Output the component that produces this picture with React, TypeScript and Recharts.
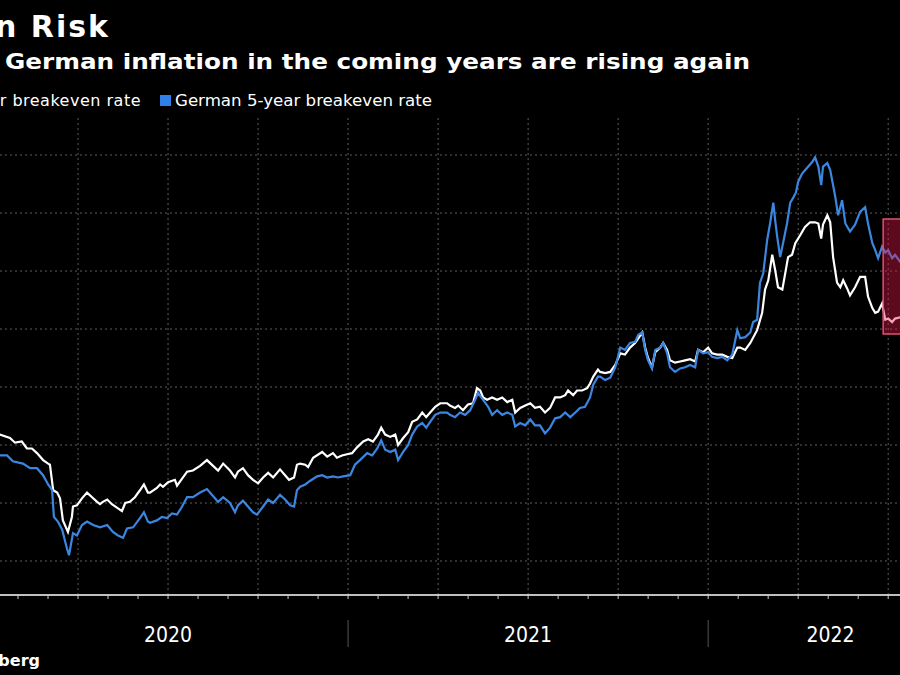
import { LineChart, Line, XAxis, YAxis, ReferenceLine, ReferenceArea } from 'recharts'

// [decimal year, %]
const tenYear: [number, number][] = [
  [2019.95, 1.1], [2020.033, 1.09], [2020.061, 1.06], [2020.075, 1.02], [2020.094, 1.03], [2020.108, 0.97],
  [2020.122, 0.97], [2020.136, 0.93], [2020.153, 0.87], [2020.167, 0.84], [2020.172, 0.83], [2020.181, 0.61],
  [2020.192, 0.59], [2020.2, 0.54], [2020.208, 0.35], [2020.222, 0.25], [2020.233, 0.38], [2020.236, 0.47],
  [2020.247, 0.48], [2020.261, 0.54], [2020.275, 0.59], [2020.289, 0.55], [2020.303, 0.51], [2020.311, 0.49],
  [2020.319, 0.51], [2020.331, 0.53], [2020.344, 0.49], [2020.358, 0.46], [2020.372, 0.43], [2020.381, 0.5],
  [2020.394, 0.51], [2020.408, 0.55], [2020.422, 0.61], [2020.433, 0.66], [2020.444, 0.59], [2020.45, 0.59],
  [2020.469, 0.63], [2020.478, 0.66], [2020.486, 0.64], [2020.5, 0.68], [2020.519, 0.7], [2020.525, 0.65],
  [2020.539, 0.71], [2020.553, 0.77], [2020.569, 0.78], [2020.589, 0.82], [2020.608, 0.87], [2020.625, 0.82],
  [2020.639, 0.78], [2020.653, 0.84], [2020.672, 0.78], [2020.686, 0.72], [2020.694, 0.77], [2020.708, 0.8],
  [2020.722, 0.74], [2020.736, 0.7], [2020.75, 0.67], [2020.764, 0.72], [2020.778, 0.76], [2020.792, 0.72],
  [2020.811, 0.79], [2020.825, 0.74], [2020.836, 0.7], [2020.85, 0.72], [2020.858, 0.83], [2020.867, 0.84],
  [2020.881, 0.83], [2020.889, 0.81], [2020.903, 0.89], [2020.928, 0.94], [2020.942, 0.9], [2020.958, 0.93],
  [2020.969, 0.89], [2020.983, 0.91], [2020.997, 0.92], [2021.011, 0.93], [2021.025, 0.98], [2021.042, 1.03],
  [2021.056, 1.05], [2021.069, 1.03], [2021.083, 1.09], [2021.092, 1.15], [2021.103, 1.09], [2021.117, 1.07],
  [2021.131, 1.09], [2021.139, 1.0], [2021.153, 1.06], [2021.167, 1.11], [2021.178, 1.2], [2021.192, 1.22],
  [2021.206, 1.28], [2021.217, 1.24], [2021.228, 1.28], [2021.242, 1.33], [2021.256, 1.36], [2021.275, 1.36],
  [2021.283, 1.34], [2021.297, 1.32], [2021.306, 1.34], [2021.319, 1.3], [2021.333, 1.35], [2021.347, 1.36],
  [2021.358, 1.49], [2021.367, 1.47], [2021.375, 1.41], [2021.386, 1.39], [2021.4, 1.41], [2021.414, 1.39],
  [2021.428, 1.41], [2021.442, 1.37], [2021.456, 1.39], [2021.464, 1.28], [2021.478, 1.32], [2021.492, 1.34],
  [2021.506, 1.36], [2021.519, 1.32], [2021.533, 1.33], [2021.547, 1.28], [2021.561, 1.32], [2021.575, 1.41],
  [2021.589, 1.41], [2021.603, 1.43], [2021.611, 1.47], [2021.625, 1.43], [2021.636, 1.47], [2021.65, 1.47],
  [2021.664, 1.49], [2021.672, 1.53], [2021.681, 1.59], [2021.694, 1.65], [2021.7, 1.63], [2021.714, 1.62],
  [2021.728, 1.63], [2021.742, 1.69], [2021.756, 1.79], [2021.769, 1.78], [2021.783, 1.84], [2021.797, 1.88],
  [2021.806, 1.92], [2021.817, 1.97], [2021.825, 1.84], [2021.833, 1.75], [2021.844, 1.67], [2021.853, 1.8],
  [2021.867, 1.84], [2021.875, 1.88], [2021.886, 1.82], [2021.894, 1.73], [2021.908, 1.71], [2021.922, 1.72],
  [2021.936, 1.73], [2021.95, 1.74], [2021.964, 1.72], [2021.972, 1.82], [2021.986, 1.8], [2022.0, 1.84],
  [2022.011, 1.79], [2022.025, 1.78], [2022.039, 1.78], [2022.053, 1.76], [2022.067, 1.75], [2022.081, 1.84],
  [2022.089, 1.84], [2022.103, 1.82], [2022.117, 1.88], [2022.136, 1.99], [2022.15, 2.14], [2022.158, 2.34],
  [2022.167, 2.42], [2022.178, 2.64], [2022.186, 2.51], [2022.194, 2.36], [2022.206, 2.34], [2022.214, 2.48],
  [2022.222, 2.62], [2022.233, 2.64], [2022.242, 2.74], [2022.256, 2.81], [2022.269, 2.88], [2022.283, 2.92],
  [2022.297, 2.92], [2022.306, 2.91], [2022.314, 2.78], [2022.319, 2.9], [2022.331, 2.98], [2022.339, 2.92],
  [2022.347, 2.62], [2022.358, 2.4], [2022.367, 2.36], [2022.375, 2.42], [2022.386, 2.35], [2022.394, 2.29],
  [2022.408, 2.36], [2022.422, 2.45], [2022.436, 2.45], [2022.444, 2.28], [2022.456, 2.18], [2022.464, 2.14],
  [2022.472, 2.15], [2022.483, 2.22], [2022.492, 2.08], [2022.5, 2.09], [2022.511, 2.06], [2022.519, 2.09],
  [2022.533, 2.1], [2022.55, 2.08],
]

const fiveYear: [number, number][] = [
  [2019.95, 0.92], [2020.033, 0.91], [2020.053, 0.91], [2020.069, 0.86], [2020.097, 0.84], [2020.117, 0.8],
  [2020.136, 0.8], [2020.153, 0.74], [2020.167, 0.66], [2020.178, 0.61], [2020.183, 0.38], [2020.194, 0.34],
  [2020.206, 0.27], [2020.219, 0.11], [2020.225, 0.05], [2020.236, 0.24], [2020.247, 0.22], [2020.261, 0.31],
  [2020.275, 0.34], [2020.292, 0.31], [2020.311, 0.29], [2020.331, 0.31], [2020.347, 0.25], [2020.361, 0.22],
  [2020.375, 0.2], [2020.386, 0.28], [2020.403, 0.29], [2020.422, 0.37], [2020.433, 0.42], [2020.444, 0.34],
  [2020.45, 0.33], [2020.469, 0.35], [2020.483, 0.38], [2020.497, 0.37], [2020.511, 0.41], [2020.525, 0.4],
  [2020.539, 0.47], [2020.553, 0.55], [2020.569, 0.55], [2020.589, 0.59], [2020.608, 0.62], [2020.625, 0.56],
  [2020.639, 0.51], [2020.653, 0.55], [2020.672, 0.5], [2020.686, 0.42], [2020.694, 0.48], [2020.708, 0.52],
  [2020.722, 0.47], [2020.736, 0.42], [2020.747, 0.4], [2020.764, 0.47], [2020.778, 0.53], [2020.792, 0.5],
  [2020.811, 0.57], [2020.825, 0.53], [2020.839, 0.48], [2020.85, 0.47], [2020.858, 0.61], [2020.867, 0.64],
  [2020.881, 0.66], [2020.894, 0.69], [2020.914, 0.73], [2020.928, 0.74], [2020.942, 0.72], [2020.958, 0.73],
  [2020.972, 0.72], [2020.986, 0.73], [2021.006, 0.74], [2021.019, 0.83], [2021.033, 0.87], [2021.053, 0.93],
  [2021.067, 0.91], [2021.081, 0.97], [2021.092, 1.04], [2021.103, 0.96], [2021.117, 0.94], [2021.131, 0.96],
  [2021.139, 0.87], [2021.153, 0.94], [2021.167, 1.0], [2021.178, 1.09], [2021.192, 1.16], [2021.206, 1.19],
  [2021.217, 1.15], [2021.228, 1.2], [2021.242, 1.26], [2021.256, 1.28], [2021.275, 1.28], [2021.283, 1.26],
  [2021.297, 1.24], [2021.311, 1.28], [2021.325, 1.26], [2021.339, 1.3], [2021.353, 1.39], [2021.361, 1.45],
  [2021.375, 1.39], [2021.389, 1.33], [2021.4, 1.26], [2021.414, 1.3], [2021.428, 1.26], [2021.442, 1.28],
  [2021.456, 1.26], [2021.464, 1.16], [2021.478, 1.19], [2021.492, 1.17], [2021.506, 1.22], [2021.519, 1.17],
  [2021.533, 1.17], [2021.547, 1.1], [2021.561, 1.15], [2021.575, 1.23], [2021.589, 1.24], [2021.603, 1.28],
  [2021.617, 1.24], [2021.631, 1.28], [2021.644, 1.32], [2021.658, 1.33], [2021.672, 1.41], [2021.681, 1.52],
  [2021.694, 1.59], [2021.7, 1.59], [2021.714, 1.56], [2021.728, 1.58], [2021.742, 1.67], [2021.756, 1.84],
  [2021.769, 1.82], [2021.783, 1.88], [2021.797, 1.89], [2021.806, 1.95], [2021.817, 1.97], [2021.825, 1.82],
  [2021.833, 1.73], [2021.844, 1.66], [2021.853, 1.82], [2021.867, 1.84], [2021.875, 1.88], [2021.886, 1.79],
  [2021.894, 1.67], [2021.908, 1.63], [2021.922, 1.66], [2021.936, 1.67], [2021.95, 1.69], [2021.964, 1.67],
  [2021.972, 1.82], [2021.986, 1.79], [2022.0, 1.8], [2022.011, 1.76], [2022.025, 1.75], [2022.039, 1.76],
  [2022.053, 1.73], [2022.067, 1.78], [2022.081, 1.99], [2022.089, 1.92], [2022.103, 1.93], [2022.117, 1.97],
  [2022.125, 2.06], [2022.136, 2.08], [2022.144, 2.4], [2022.153, 2.48], [2022.164, 2.77], [2022.172, 2.91],
  [2022.181, 3.09], [2022.186, 2.94], [2022.192, 2.79], [2022.2, 2.62], [2022.208, 2.74], [2022.219, 2.91],
  [2022.228, 3.09], [2022.236, 3.13], [2022.244, 3.18], [2022.25, 3.27], [2022.261, 3.34], [2022.275, 3.39],
  [2022.289, 3.44], [2022.297, 3.48], [2022.306, 3.4], [2022.314, 3.24], [2022.319, 3.4], [2022.331, 3.43],
  [2022.339, 3.37], [2022.353, 3.14], [2022.361, 2.98], [2022.372, 3.11], [2022.381, 2.91], [2022.394, 2.84],
  [2022.408, 2.9], [2022.422, 3.01], [2022.436, 3.05], [2022.444, 2.91], [2022.456, 2.74], [2022.464, 2.68],
  [2022.472, 2.61], [2022.483, 2.71], [2022.492, 2.66], [2022.5, 2.68], [2022.511, 2.61], [2022.519, 2.64],
  [2022.533, 2.58], [2022.55, 2.6],
]

const years = [2020, 2021, 2022]
const yTicks = [0, 0.5, 1, 1.5, 2, 2.5, 3, 3.5]
const xDomain: [number, number] = [2019.95, 2022.68]
const yDomain: [number, number] = [-0.293, 3.845]
// highlighted recent stretch
const boxX: [number, number] = [2022.486, 2022.68]
const boxY: [number, number] = [1.957, 2.948]

const WHITE = '#ffffff'
const BLUE = '#3b86e0'
const GRID = '#5e5e5e'

const tenRows = tenYear.map(([t, v]) => ({ t, v }))
const fiveRows = fiveYear.map(([t, v]) => ({ t, v }))

const inDomain = (t: number) => t >= xDomain[0] && t <= xDomain[1]
const monthTicks = years.flatMap(y => Array.from({ length: 12 }, (_, m) => y + m / 12)).filter(inDomain)
const quarterTicks = years.flatMap(y => [0, 3, 6, 9].map(m => y + m / 12)).filter(inDomain)
const yearBounds = years.filter(inDomain)
const yearLabels = years.map(y => (Math.max(y, xDomain[0]) + Math.min(y + 1, xDomain[1])) / 2)
const yearAxisTicks = [...yearBounds, ...yearLabels].sort((a, b) => a - b)

const YearTick = (props: any) => {
  const { x, y, payload } = props
  const v = payload.value
  if (Number.isInteger(v)) {
    return <line x1={x} x2={x} y1={y + 15} y2={y + 42} stroke="#555" strokeWidth={1} />
  }
  return (
    <text x={x} y={y + 37} textAnchor="middle" fill="#fff" fontSize={21}
      fontFamily="'DejaVu Sans Condensed', 'DejaVu Sans', sans-serif">
      {Math.floor(v)}
    </text>
  )
}

export default function App() {
  return (
    <div style={{ position: 'fixed', left: 0, top: 0, width: 900, height: 675, background: '#000', overflow: 'hidden' }}>
      <div style={{ position: 'absolute', left: -30, top: 0 }}>
        <LineChart width={983} height={675} margin={{ top: 115, right: 0, bottom: 10, left: 0 }}>
          <XAxis dataKey="t" type="number" domain={xDomain} allowDataOverflow ticks={monthTicks}
            interval={0} tickSize={4} stroke={WHITE} axisLine={{ stroke: WHITE, strokeWidth: 1.5 }}
            tickLine={{ stroke: '#ccc' }} tick={() => <g />} height={10} />
          <XAxis xAxisId="yr" dataKey="t" type="number" domain={xDomain} allowDataOverflow ticks={yearAxisTicks}
            interval={0} tickSize={0} tickMargin={0} axisLine={false} tickLine={false} tick={YearTick} height={60} />
          <YAxis type="number" domain={yDomain} allowDataOverflow hide width={0} />
          {yTicks.map(v => (
            <ReferenceLine key={'h' + v} y={v} stroke={GRID} strokeDasharray="2 3" />
          ))}
          {quarterTicks.map(t => (
            <ReferenceLine key={'v' + t} x={t} stroke={GRID} strokeDasharray="2 3" />
          ))}
          <Line data={tenRows} dataKey="v" type="linear" stroke={WHITE} strokeWidth={2.2} dot={false}
            isAnimationActive={false} />
          <Line data={fiveRows} dataKey="v" type="linear" stroke={BLUE} strokeWidth={2.2} dot={false}
            isAnimationActive={false} />
          <ReferenceArea x1={boxX[0]} x2={boxX[1]} y1={boxY[0]} y2={boxY[1]} fill="#e8194b" fillOpacity={0.4}
            stroke="#e0506e" strokeWidth={1.5} zIndex={1500} />
        </LineChart>
      </div>
      <svg width={900} height={675} style={{ position: 'absolute', left: 0, top: 0, pointerEvents: 'none' }}>
        <text x={110} y={37} textAnchor="end" fill="#fff" fontSize={30} fontWeight={700} letterSpacing={2}
          fontFamily="'DejaVu Sans', sans-serif">German Inflation Risk</text>
        <text x={5} y={69} fill="#fff" fontSize={22} fontWeight={700} textLength={745} lengthAdjust="spacingAndGlyphs"
          fontFamily="'DejaVu Sans', sans-serif">German inflation in the coming years are rising again</text>
        <text x={141} y={106} textAnchor="end" fill="#fff" fontSize={16} letterSpacing={0.5}
          fontFamily="'DejaVu Sans', sans-serif">German 10-year breakeven rate</text>
        <rect x={160} y={95} width={11} height={11} fill="#2f80e8" />
        <text x={175} y={106} fill="#fff" fontSize={16} textLength={257} lengthAdjust="spacingAndGlyphs"
          fontFamily="'DejaVu Sans', sans-serif">German 5-year breakeven rate</text>
        <text x={40} y={666} textAnchor="end" fill="#fff" fontSize={16} fontWeight={700}
          fontFamily="'DejaVu Sans', sans-serif">Source: Bloomberg</text>
      </svg>
    </div>
  )
}
